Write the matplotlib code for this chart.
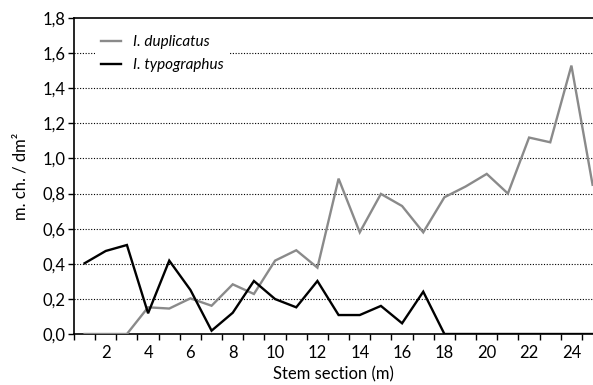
import matplotlib.pyplot as plt
from matplotlib.ticker import FixedLocator, FuncFormatter

plt.rcParams['font.family'] = ['Lato', 'DejaVu Sans']

sections = list(range(1, 26))
duplicatus = [0.0, 0.0, 0.0, 0.152, 0.145, 0.203, 0.161, 0.283, 0.228, 0.418,
              0.477, 0.378, 0.885, 0.579, 0.798, 0.729, 0.579, 0.779, 0.84, 0.912,
              0.80, 1.119, 1.092, 1.529, 0.85]
typographus = [0.403, 0.473, 0.507, 0.118, 0.418, 0.251, 0.019, 0.121, 0.302, 0.199,
               0.152, 0.302, 0.108, 0.108, 0.16, 0.061, 0.241, 0.0, 0.0, 0.0,
               0.0, 0.0, 0.0, 0.0, 0.0]
yticks = [0.0, 0.2, 0.4, 0.6, 0.8, 1.0, 1.2, 1.4, 1.6, 1.8]
xlabels = list(range(2, 26, 2))

W, H = 593, 385
fig = plt.figure(figsize=(W / 100, H / 100), dpi=100)
ax = fig.add_axes([74 / W, (H - 334) / H, (W - 74) / W, (334 - 18) / H])

ax.plot(sections, duplicatus, color='#8a8a8a', lw=1.7, label='I. duplicatus',
        solid_joinstyle='miter', zorder=3)
ax.plot(sections, typographus, color='black', lw=1.7, label='I. typographus',
        solid_joinstyle='miter', zorder=4)

ax.set_xlim(0.5, 25.02)
ax.set_ylim(0, 1.8)

ax.set_yticks(yticks)
ax.yaxis.set_major_formatter(FuncFormatter(lambda v, p: f'{v:.1f}'.replace('.', ',')))
ax.set_xticks(xlabels)
ax.xaxis.set_minor_locator(FixedLocator([i + 0.5 for i in range(0, 25)]))
ax.tick_params(axis='x', which='major', length=0, pad=8, labelsize=12)
ax.tick_params(axis='x', which='minor', length=4, width=1, direction='out')
ax.tick_params(axis='y', length=4, width=1, direction='out', labelsize=12, pad=2)

for v in yticks[1:-1]:
    ax.axhline(v, color='black', lw=0.8, ls=(0, (1, 1.5)), zorder=1)

for s in ['left', 'bottom', 'top']:
    ax.spines[s].set_linewidth(1.2)
ax.spines['right'].set_visible(False)

ax.set_xlabel('Stem section (m)', fontsize=12, labelpad=4)
ax.set_ylabel('m. ch. / dm²', fontsize=12, labelpad=10)

leg = ax.legend(loc='upper left', bbox_to_anchor=(0.025, 0.99), frameon=True,
                fancybox=False, edgecolor='none', facecolor='white', framealpha=1,
                handlelength=1.3, handletextpad=0.8, labelspacing=0.6,
                prop={'style': 'italic', 'size': 11})
leg.set_zorder(5)

fig.savefig('out.png', dpi=100)
